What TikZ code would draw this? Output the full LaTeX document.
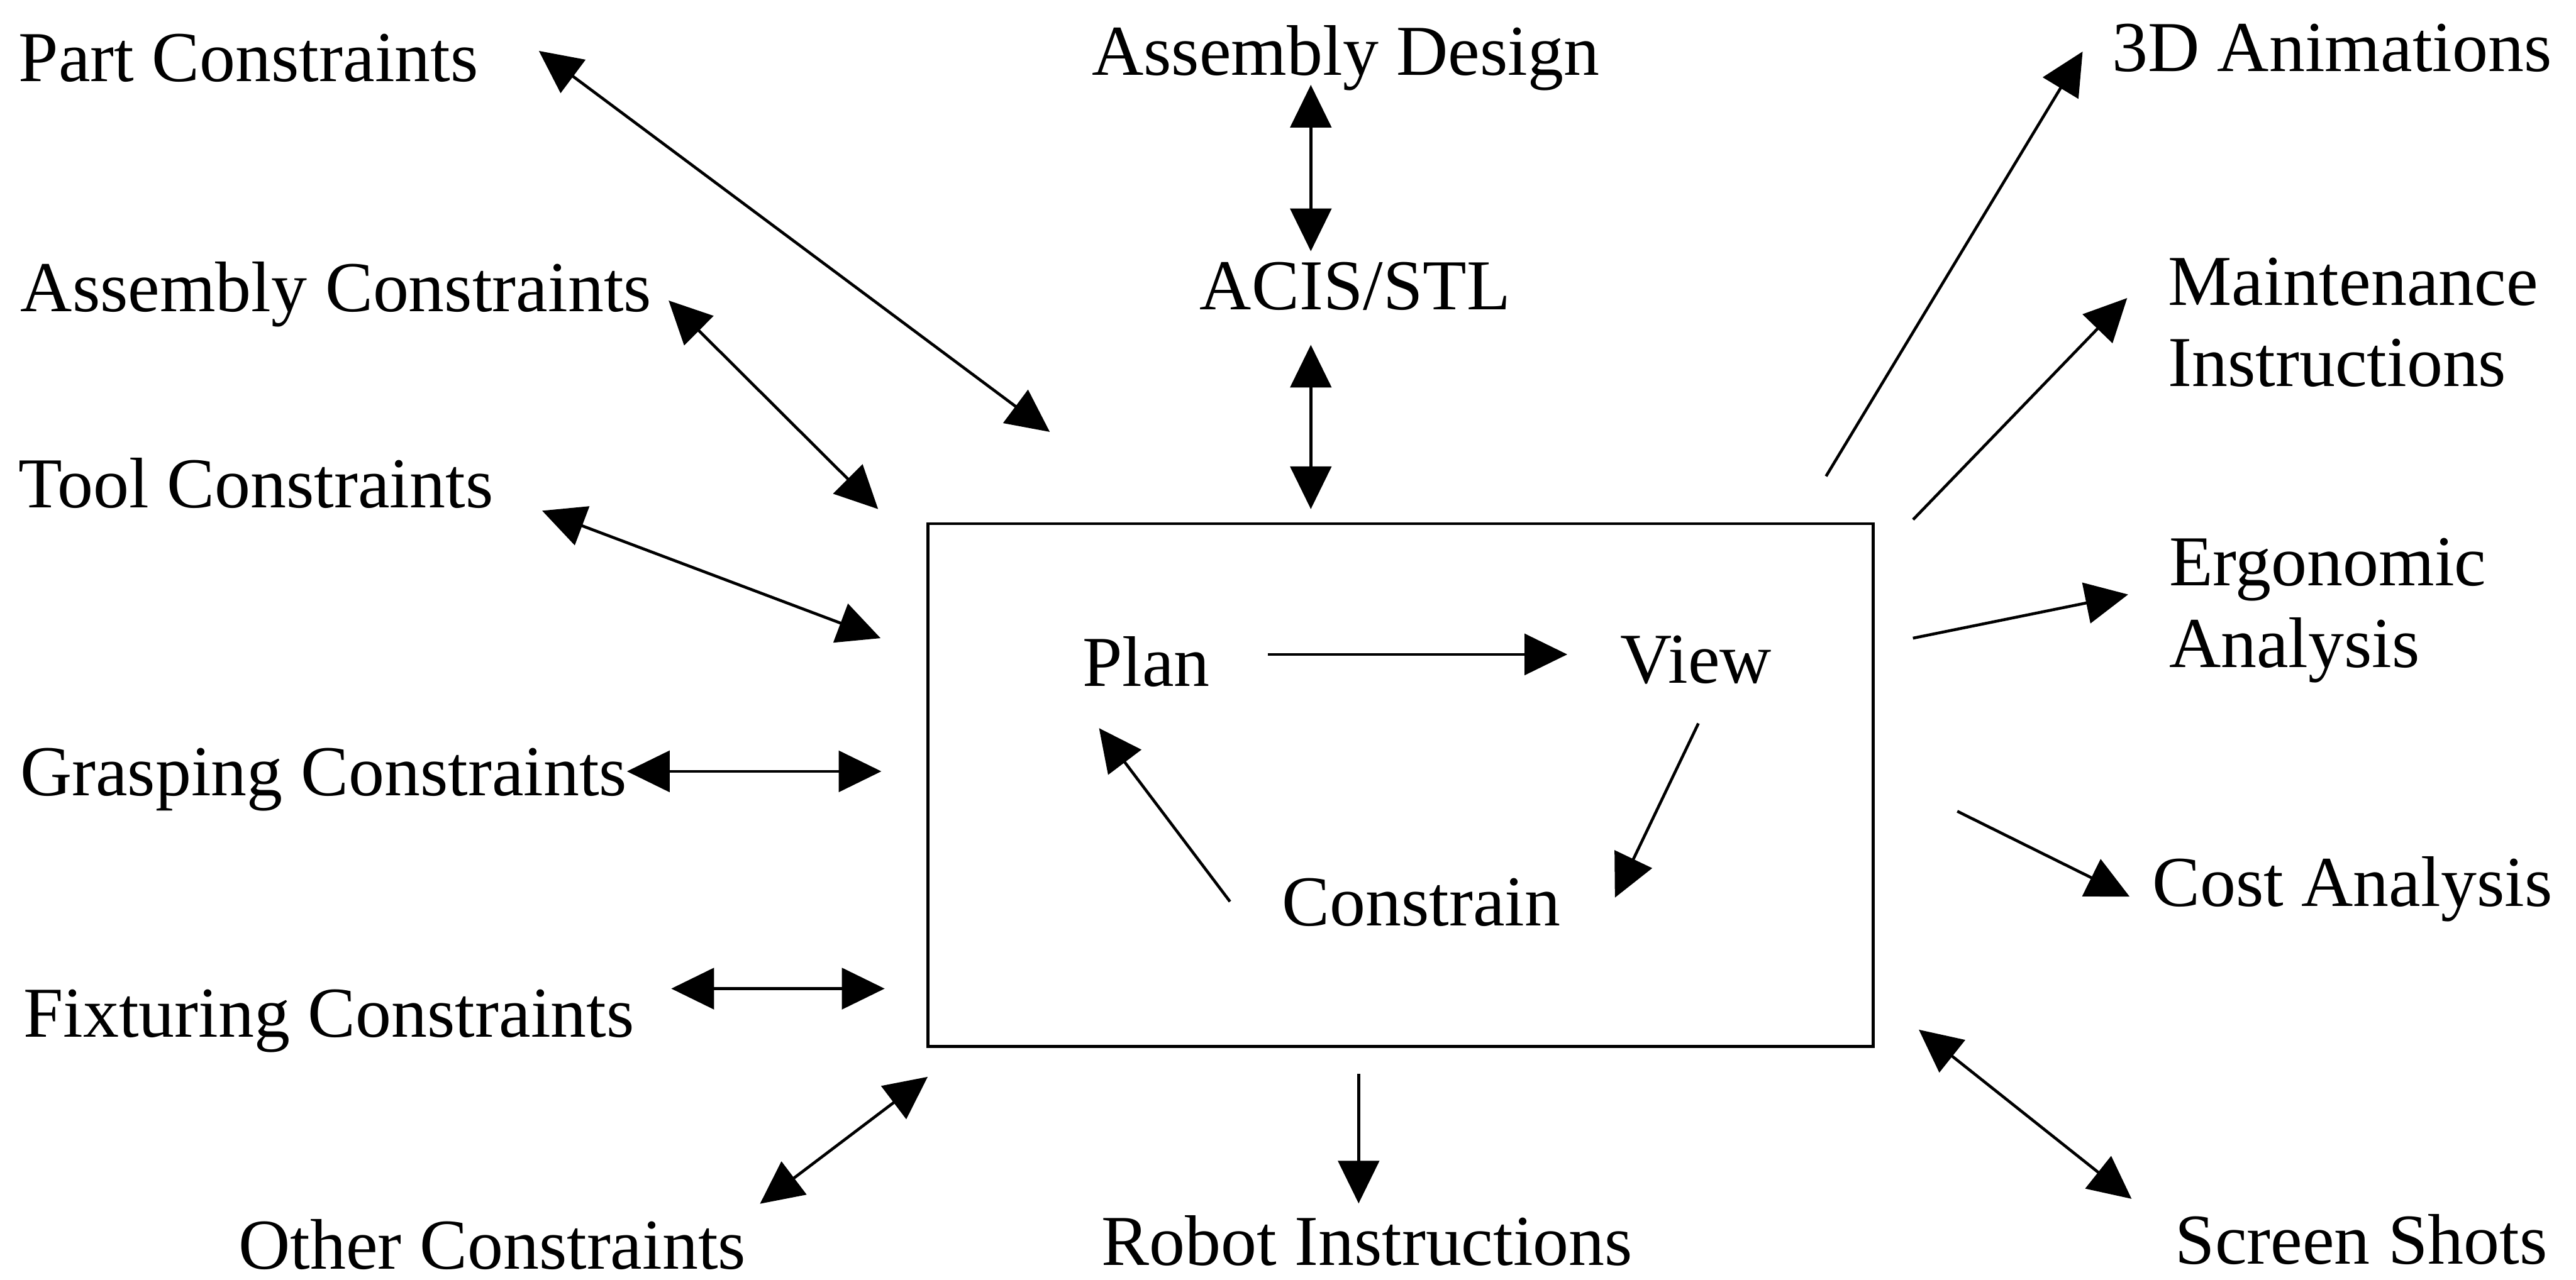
\documentclass[tikz,border=0pt]{standalone}
\usepackage{fontspec}
\setmainfont{Liberation Serif}
\usetikzlibrary{arrows.meta}
\begin{document}
\begin{tikzpicture}[x=0.01cm,y=-0.01cm,
  lbl/.style={anchor=base west,inner sep=0pt,font=\fontsize{12.4pt}{14.1pt}\selectfont},
  mlbl/.style={lbl,align=left},
  con/.style={line width=0.5pt},
  one/.style={con,-{Triangle[length=0.26cm,width=0.25cm]}},
  two/.style={con,{Triangle[length=0.26cm,width=0.25cm]}-{Triangle[length=0.26cm,width=0.25cm]}}]
\useasboundingbox (0,0) rectangle (1568,779.4);
% labels
\node[lbl] (part) at (10.7,49.7) {Part Constraints};
\node[lbl] (asmc) at (11.9,189.6) {Assembly Constraints};
\node[lbl] (tool) at (10.7,309.3) {Tool Constraints};
\node[lbl] (grasp) at (11.6,484.3) {Grasping Constraints};
\node[lbl] (fix) at (13.5,631.4) {Fixturing Constraints};
\node[lbl] (other) at (144.5,772.7) {Other Constraints};
\node[lbl] (design) at (664,45.6) {Assembly Design};
\node[lbl] (acis) at (729.7,188.6) {ACIS/STL};
\node[lbl] (anim) at (1284.9,43.6) {3D Animations};
\node[mlbl] (maint) at (1319,235.3) {Maintenance\\Instructions};
\node[mlbl] (ergo) at (1319.7,406.3) {Ergonomic\\Analysis};
\node[lbl] (cost) at (1309.4,552) {Cost Analysis};
\node[lbl] (screen) at (1323.4,769.7) {Screen Shots};
\node[lbl] (robot) at (669.7,770.6) {Robot Instructions};
% central box
\node[draw,line width=0.5pt,minimum width=5.75cm,minimum height=3.18cm,inner sep=0pt] (box) at (852.5,478) {};
\node[lbl] (plan) at (658.2,417.7) {Plan};
\node[lbl] (view) at (985.8,415.8) {View};
\node[lbl] (constrain) at (779.6,563.6) {Constrain};
% connector end points
\coordinate (partA) at (328,31);     \coordinate (partB) at (639,263);
\coordinate (asmA) at (407,183);     \coordinate (asmB) at (534.5,310);
\coordinate (toolA) at (330,311);    \coordinate (toolB) at (536,388.6);
\coordinate (graspA) at (381.6,469.7); \coordinate (graspB) at (536.5,469.7);
\coordinate (fixA) at (408.6,602);   \coordinate (fixB) at (538.5,602);
\coordinate (otherA) at (462.6,733); \coordinate (otherB) at (564.7,655.7);
\coordinate (desA) at (797.9,51.7);  \coordinate (desB) at (797.9,153);
\coordinate (acisA) at (797.9,210);  \coordinate (acisB) at (797.9,310);
\coordinate (animA) at (1111.5,290); \coordinate (animB) at (1267.7,31.4);
\coordinate (maintA) at (1164.5,316.4); \coordinate (maintB) at (1294.8,181.5);
\coordinate (ergoA) at (1164.4,388.6); \coordinate (ergoB) at (1295.4,362);
\coordinate (costA) at (1191.4,494); \coordinate (costB) at (1296.3,546);
\coordinate (scrA) at (1168,627);    \coordinate (scrB) at (1297.5,730);
\coordinate (robA) at (827,654);     \coordinate (robB) at (827,732.8);
\coordinate (pvA) at (771.8,398.5);  \coordinate (pvB) at (954,398.5);
\coordinate (vcA) at (1033.8,440.5); \coordinate (vcB) at (983,546.6);
\coordinate (cpA) at (748.7,549);    \coordinate (cpB) at (669,443.4);
% connectors
\draw[two] (partA) -- (partB);
\draw[two] (asmA) -- (asmB);
\draw[two] (toolA) -- (toolB);
\draw[two] (graspA) -- (graspB);
\draw[two] (fixA) -- (fixB);
\draw[two] (otherA) -- (otherB);
\draw[two] (desA) -- (desB);
\draw[two] (acisA) -- (acisB);
\draw[one] (animA) -- (animB);
\draw[one] (maintA) -- (maintB);
\draw[one] (ergoA) -- (ergoB);
\draw[one] (costA) -- (costB);
\draw[two] (scrA) -- (scrB);
\draw[one] (robA) -- (robB);
\draw[one] (pvA) -- (pvB);
\draw[one] (vcA) -- (vcB);
\draw[one] (cpA) -- (cpB);
\end{tikzpicture}
\end{document}
